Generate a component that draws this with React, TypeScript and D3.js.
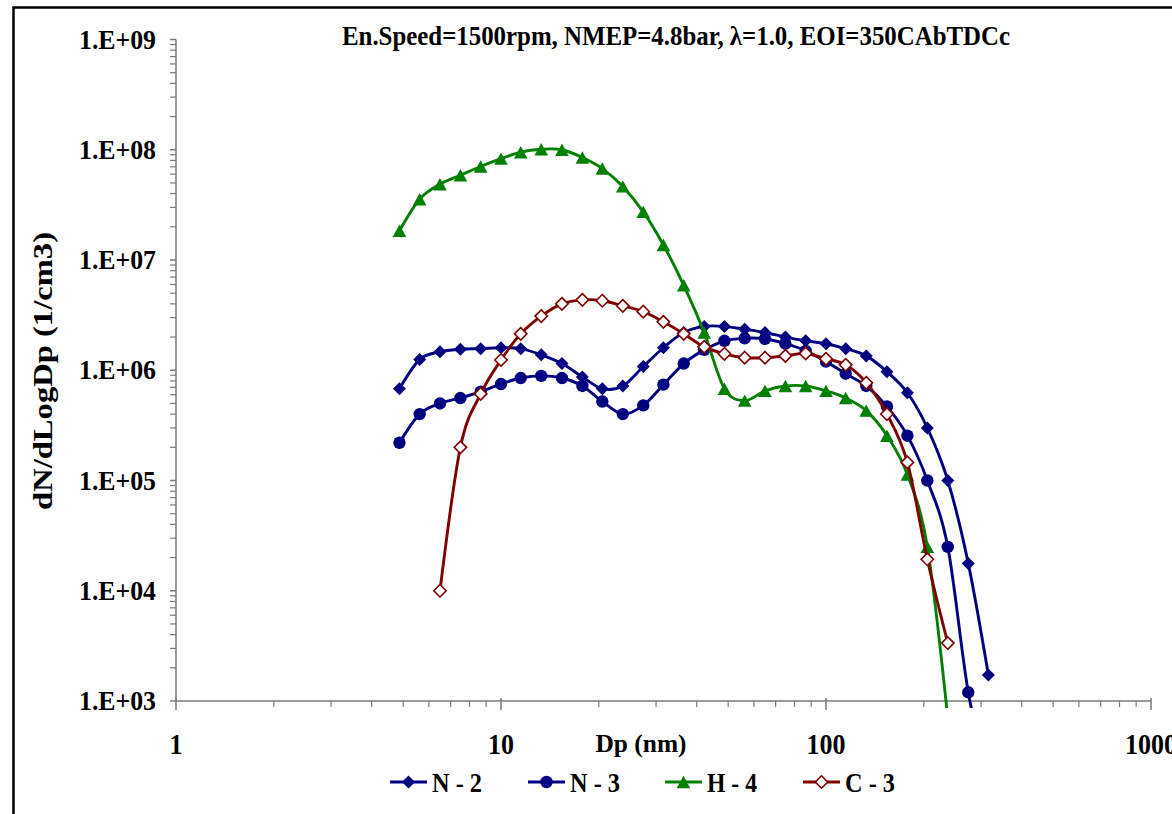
import React from 'react';
import * as d3 from 'd3';

// Particle diameters (nm) of the size bins shown
const diameters = [4.87, 5.62, 6.49, 7.5, 8.66, 10.0, 11.5, 13.3, 15.4, 17.8, 20.5, 23.7, 27.4, 31.6, 36.5, 42.2, 48.7, 56.2, 64.9, 75.0, 86.6, 100, 115, 133, 154, 178, 205, 237, 274, 316];

const n2Values = [6.8e5, 1.25e6, 1.47e6, 1.55e6, 1.57e6, 1.6e6, 1.57e6, 1.38e6, 1.15e6, 8.7e5, 6.8e5, 7.2e5, 1.08e6, 1.6e6, 2.2e6, 2.5e6, 2.5e6, 2.35e6, 2.2e6, 2.0e6, 1.85e6, 1.74e6, 1.57e6, 1.35e6, 9.7e5, 6.25e5, 3.0e5, 1.0e5, 1.77e4, 1.72e3];
const n3Values = [2.2e5, 4.0e5, 5.0e5, 5.6e5, 6.4e5, 7.5e5, 8.5e5, 8.9e5, 8.5e5, 7.2e5, 5.2e5, 4.0e5, 4.8e5, 7.4e5, 1.15e6, 1.53e6, 1.85e6, 1.95e6, 1.93e6, 1.74e6, 1.5e6, 1.2e6, 9.3e5, 7.2e5, 4.7e5, 2.55e5, 1.0e5, 2.5e4, 1.2e3, 2.0e2];
const h4Values = [1.84e7, 3.56e7, 4.87e7, 5.87e7, 7.05e7, 8.3e7, 9.5e7, 1.01e8, 1.0e8, 8.5e7, 6.75e7, 4.65e7, 2.73e7, 1.37e7, 5.9e6, 2.2e6, 6.8e5, 5.3e5, 6.5e5, 7.2e5, 7.2e5, 6.5e5, 5.6e5, 4.3e5, 2.55e5, 1.13e5, 2.5e4, 7.0e2];
const c3Values = [1.0e4, 2.0e5, 6.1e5, 1.24e6, 2.14e6, 3.1e6, 4.0e6, 4.35e6, 4.27e6, 3.84e6, 3.4e6, 2.75e6, 2.14e6, 1.63e6, 1.41e6, 1.3e6, 1.3e6, 1.35e6, 1.42e6, 1.27e6, 1.12e6, 7.7e5, 4.0e5, 1.46e5, 1.93e4, 3.35e3];
// first bin index of each series within `diameters`
const seriesStart = [0, 0, 0, 2];
const seriesNames = ['N - 2', 'N - 3', 'H - 4', 'C - 3'];

const yTickValues = [1e3, 1e4, 1e5, 1e6, 1e7, 1e8, 1e9];
const yTickLabels = ['1.E+03', '1.E+04', '1.E+05', '1.E+06', '1.E+07', '1.E+08', '1.E+09'];
const xTickValues = [1, 10, 100, 1000];
const xTickLabels = ['1', '10', '100', '1000'];

const titleText = 'En.Speed=1500rpm, NMEP=4.8bar, \u03bb=1.0, EOI=350CAbTDCc';
const xTitle = 'Dp (nm)';
const yTitle = 'dN/dLogDp (1/cm3)';

const NAVY = '#000080';
const GREEN = '#008000';
const DRED = '#800000';
const FONT = '"Liberation Serif", "Times New Roman", serif';

type Shape = 'diamond' | 'circle' | 'triangle' | 'odiamond';
const styles: { color: string; shape: Shape }[] = [
  { color: NAVY, shape: 'diamond' },
  { color: NAVY, shape: 'circle' },
  { color: GREEN, shape: 'triangle' },
  { color: DRED, shape: 'odiamond' },
];

function Marker({ shape, color, x, y }: { shape: Shape; color: string; x: number; y: number }) {
  if (shape === 'diamond') {
    const s = 6.5;
    return <path d={`M${x},${y - s}L${x + s},${y}L${x},${y + s}L${x - s},${y}Z`} fill={color} />;
  }
  if (shape === 'circle') return <circle cx={x} cy={y} r={6.2} fill={color} />;
  if (shape === 'triangle') {
    const w = 6.8, h = 6.2;
    return <path d={`M${x},${y - h}L${x + w},${y + h}L${x - w},${y + h}Z`} fill={color} />;
  }
  const s = 6.2;
  return <path d={`M${x},${y - s}L${x + s},${y}L${x},${y + s}L${x - s},${y}Z`} fill="#fff" stroke={color} strokeWidth={1.6} />;
}

export default function App() {
  const W = 1172, H = 814;
  const x = d3.scaleLog().domain([1, 1000]).range([176, 1151]);
  const y = d3.scaleLog().domain([1e3, 1e9]).range([701, 39.5]);
  const allValues = [n2Values, n3Values, h4Values, c3Values];
  const line = d3.line<[number, number]>().x(d => x(d[0])).y(d => y(d[1])).curve(d3.curveCardinal.tension(0));

  const yMinor: number[] = [];
  for (let e = 3; e < 9; e++) for (let m = 2; m <= 9; m++) yMinor.push(m * Math.pow(10, e));
  const xMinor: number[] = [];
  for (let e = 0; e < 3; e++) for (let m = 2; m <= 9; m++) xMinor.push(m * Math.pow(10, e));

  const axisColor = '#7a7a7a';
  const legendItems = [
    { lx: 390, tx: 432 },
    { lx: 528, tx: 570 },
    { lx: 665, tx: 707 },
    { lx: 803, tx: 845 },
  ];

  return (
    <svg width={W} height={H} style={{ position: 'absolute', left: 0, top: 0, background: '#fff' }} fontFamily={FONT}>
      <defs>
        <clipPath id="plotclip">
          <rect x={176} y={0} width={1000} height={708} />
        </clipPath>
      </defs>
      <rect x={0} y={0} width={W} height={H} fill="#fff" />
      <rect x={13.5} y={7.5} width={1220} height={860} fill="none" stroke="#000" strokeWidth={2.5} />

      {/* title */}
      <text x={342} y={45} fontSize={27} fontWeight="bold" textLength={668} lengthAdjust="spacingAndGlyphs">{titleText}</text>

      {/* y axis */}
      <line x1={176} x2={176} y1={y(1e9)} y2={y(1e3)} stroke={axisColor} strokeWidth={1.5} />
      {yTickValues.map((v, i) => (
        <g key={'yt' + i}>
          <line x1={170} x2={176} y1={y(v)} y2={y(v)} stroke={axisColor} strokeWidth={1.5} />
          <text x={156} y={y(v) + 9} fontSize={28} fontWeight="bold" textAnchor="end" textLength={77} lengthAdjust="spacingAndGlyphs">{yTickLabels[i]}</text>
        </g>
      ))}
      {yMinor.map((v, i) => (
        <line key={'ym' + i} x1={170} x2={176} y1={y(v)} y2={y(v)} stroke={axisColor} strokeWidth={1.2} />
      ))}

      {/* x axis */}
      <line x1={176} x2={1151} y1={701} y2={701} stroke={axisColor} strokeWidth={1.5} />
      {xTickValues.map((v, i) => (
        <g key={'xt' + i}>
          <line x1={x(v)} x2={x(v)} y1={698} y2={710} stroke={axisColor} strokeWidth={1.5} />
          <text x={x(v)} y={754} fontSize={29} fontWeight="bold" textAnchor="middle" textLength={13 * xTickLabels[i].length} lengthAdjust="spacingAndGlyphs">{xTickLabels[i]}</text>
        </g>
      ))}
      {xMinor.map((v, i) => (
        <line key={'xm' + i} x1={x(v)} x2={x(v)} y1={701} y2={707} stroke={axisColor} strokeWidth={1.2} />
      ))}

      <text x={641} y={752} fontSize={26} fontWeight="bold" textAnchor="middle" textLength={91} lengthAdjust="spacingAndGlyphs">{xTitle}</text>
      <text transform="translate(52,371) rotate(-90)" fontSize={27} fontWeight="bold" textAnchor="middle" textLength={278} lengthAdjust="spacingAndGlyphs">{yTitle}</text>

      {/* series */}
      {allValues.map((vals, si) => {
        const pts: [number, number][] = vals.map((v, i) => [diameters[seriesStart[si] + i], v]);
        const st = styles[si];
        return (
          <g key={'s' + si}>
            <path d={line(pts) || ''} fill="none" stroke={st.color} strokeWidth={2.9} clipPath="url(#plotclip)" />
            {pts.filter(p => p[1] >= 1e3).map((p, i) => (
              <Marker key={i} shape={st.shape} color={st.color} x={x(p[0])} y={y(p[1])} />
            ))}
          </g>
        );
      })}

      {/* legend */}
      {legendItems.map((it, i) => (
        <g key={'lg' + i}>
          <line x1={it.lx} x2={it.lx + 37} y1={782} y2={782} stroke={styles[i].color} strokeWidth={2.9} />
          <Marker shape={styles[i].shape} color={styles[i].color} x={it.lx + 18.5} y={782} />
          <text x={it.tx} y={792} fontSize={28} fontWeight="bold" textLength={50} lengthAdjust="spacingAndGlyphs">{seriesNames[i]}</text>
        </g>
      ))}
    </svg>
  );
}
